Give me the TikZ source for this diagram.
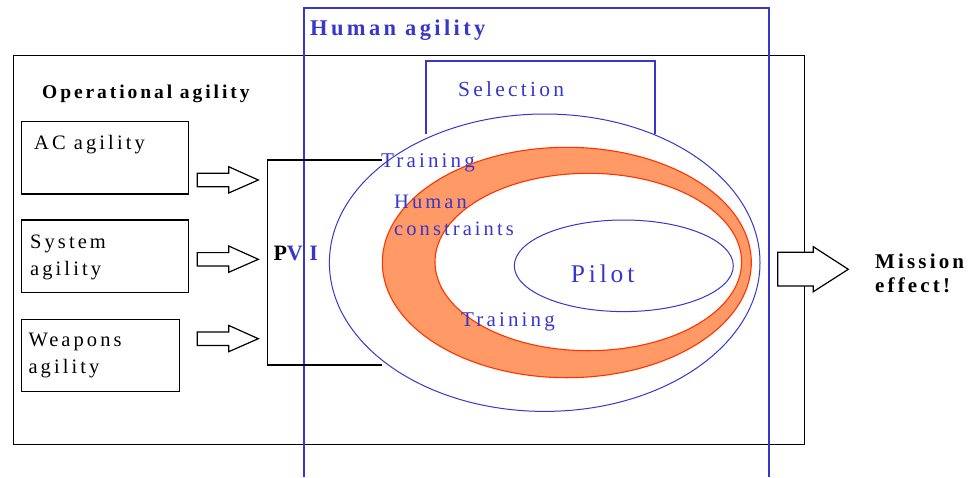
\documentclass[tikz,border=0pt]{standalone}
\usepackage{fontspec}
\setmainfont{Liberation Serif}
\newfontfamily\spc[LetterSpace=15]{Liberation Serif}
\newfontfamily\spcw[LetterSpace=30]{Liberation Serif}
\definecolor{hblue}{RGB}{55,55,204}
\definecolor{ringfill}{RGB}{255,153,102}
\definecolor{ringline}{RGB}{255,51,0}
\tikzset{
  lbl/.style={anchor=base west, inner sep=0pt, font=\spc\fontsize{20.5}{27}\selectfont},
  blbl/.style={lbl, font=\spc\bfseries\fontsize{19.5}{25}\selectfont},
  bluetxt/.style={text=hblue},
  blackline/.style={draw=black, line width=1.2pt},
  blueline/.style={draw=hblue, line width=1.2pt},
  thinblue/.style={draw=hblue, line width=1pt},
  agbox/.style={draw=black, line width=1.2pt, anchor=north west, inner sep=0pt},
  blockarrow/.style={draw=black, line width=1.2pt, fill=white, line join=miter},
}
\begin{document}
\begin{tikzpicture}[x=1pt,y=-1pt]
\useasboundingbox (0,0) rectangle (971,477);
% operational agility frame
\node[agbox, minimum width=791pt, minimum height=389pt] (opframe) at (13,55) {};
% human agility frame (open at bottom, runs off the page)
\coordinate (hbl) at (304,477);
\coordinate (htl) at (304,8);
\coordinate (htr) at (769,8);
\coordinate (hbr) at (769,477);
\draw[blueline] (hbl) -- (htl) -- (htr) -- (hbr);
% selection frame
\coordinate (sbl) at (426,134);
\coordinate (stl) at (426,61);
\coordinate (str) at (655,61);
\coordinate (sbr) at (655,134);
\draw[blueline] (sbl) -- (stl) -- (str) -- (sbr);
% big ellipse
\coordinate (ec) at (544.7,262.7);
\draw[thinblue, fill=white] (ec) ellipse [x radius=215.3pt, y radius=148.7pt];
% ring
\coordinate (rc) at (566.8,262.5);
\coordinate (ic) at (588.3,262);
\fill[ringfill, even odd rule] (rc) ellipse [x radius=184.5pt, y radius=115.2pt]
      (ic) ellipse [x radius=153.3pt, y radius=88.7pt];
\draw[draw=ringline, line width=1.1pt] (rc) ellipse [x radius=184.5pt, y radius=115.2pt];
\draw[draw=ringline, line width=1.1pt] (ic) ellipse [x radius=153.3pt, y radius=88.7pt];
% pilot
\coordinate (pc) at (623.8,265.8);
\draw[thinblue] (pc) ellipse [x radius=109.5pt, y radius=45.8pt];
% PVI bracket
\coordinate (pvt) at (382,160);
\coordinate (pvtl) at (267.3,160);
\coordinate (pvbl) at (267.3,365);
\coordinate (pvb) at (382,365);
\draw[blackline] (pvt) -- (pvtl) -- (pvbl) -- (pvb);
% agility boxes
\node[agbox, minimum width=167pt, minimum height=72.6pt] (acbox) at (21,120.7) {};
\node[agbox, minimum width=166.7pt, minimum height=72.4pt] (sysbox) at (21,219.3) {};
\node[agbox, minimum width=157.7pt, minimum height=72.3pt] (wepbox) at (21,318.7) {};
% block arrows
\coordinate (a1) at (197.3,180);
\coordinate (a2) at (197.3,259.3);
\coordinate (a3) at (197.3,338.7);
\foreach \a in {a1,a2,a3}{
  \draw[blockarrow] (\a) ++(0,-6.7) -- ++(31.4,0) -- ++(0,-6.6) -- ++(29.6,13.3)
     -- ++(-29.6,13) -- ++(0,-6.3) -- ++(-31.4,0) -- cycle;
}
\coordinate (a4) at (777.7,269.3);
\draw[blockarrow] (a4) ++(0,-17) -- ++(35.6,0) -- ++(0,-5.6) -- ++(35,22.6)
     -- ++(-35,22.4) -- ++(0,-5.7) -- ++(-35.6,0) -- cycle;
% texts
\node[blbl] (optxt) at (42,98) {Operational agility};
\node[blbl, bluetxt, font=\spc\bfseries\fontsize{22.5}{25}\selectfont] (humtxt) at (310,35.7) {Human agility};
\node[lbl, bluetxt, font=\spc\fontsize{21.5}{27}\selectfont] (seltxt) at (458,96) {Selection};
\node[lbl] (actxt) at (34,149) {AC agility};
\node[lbl, align=left] (systxt) at (30,275) {System\\agility};
\node[lbl, align=left, font=\spc\fontsize{20.5}{26.3}\selectfont] (weptxt) at (28.3,373) {Weapons\\agility};
\node[blbl, font=\spcw\bfseries\fontsize{22}{25}\selectfont] (pvitxt) at (273.3,260.7) {P\textcolor{hblue}{VI}};
\node[lbl, bluetxt, font=\spc\fontsize{21}{27}\selectfont] (tr1) at (381,167) {Training};
\node[lbl, bluetxt, align=left] (hctxt) at (394,235) {Human\\constraints};
\node[lbl, bluetxt, font=\spc\fontsize{21}{27}\selectfont] (tr2) at (461,326.7) {Training};
\node[lbl, bluetxt, font=\spc\fontsize{25.5}{30}\selectfont] (pilottxt) at (570.7,282.7) {Pilot};
\node[blbl, align=left, font=\spc\bfseries\fontsize{21}{24.7}\selectfont] (mistxt) at (875,292.7) {Mission\\effect!};
\end{tikzpicture}
\end{document}
